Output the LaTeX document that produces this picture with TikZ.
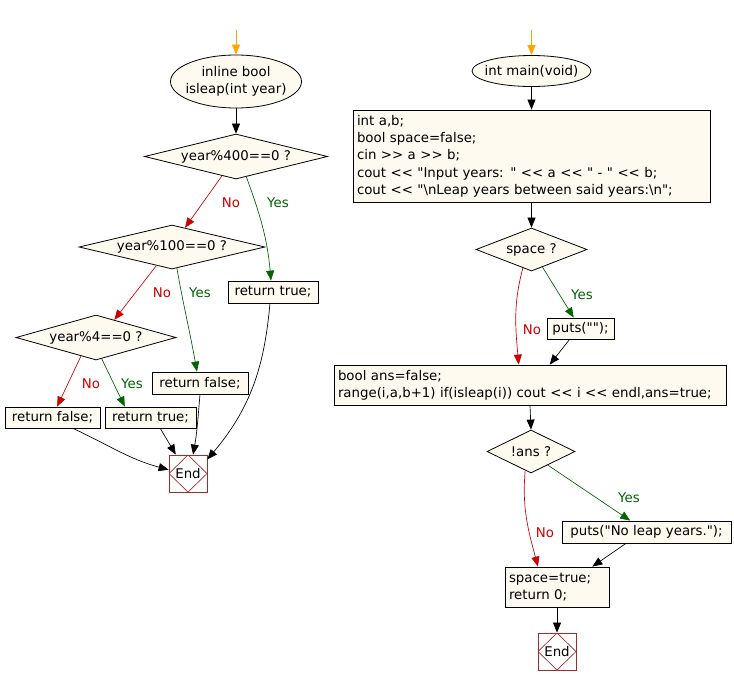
\documentclass[tikz,border=0pt]{standalone}
\usepackage{fontspec}
\setmainfont{DejaVu Sans}[Ligatures=TeXOff]
\usetikzlibrary{shapes.geometric, arrows.meta, positioning}

\definecolor{boxfill}{HTML}{FFFAF0}
\definecolor{nored}{HTML}{CC0000}
\definecolor{yesgreen}{HTML}{006400}
\definecolor{endbrown}{HTML}{A52A2A}
\definecolor{startorange}{HTML}{FFA500}

\begin{document}
\begin{tikzpicture}[x=0.75pt, y=-0.75pt,
  every node/.style={font=\fontsize{10}{13}\selectfont},
  base/.style={draw, fill=boxfill, line width=0.6pt, inner sep=0pt},
  startnode/.style={base, ellipse, align=center, inner xsep=-9pt},
  decision/.style={base, diamond},
  stmt/.style={base, rectangle, minimum height=16.5pt},
  block/.style={base, rectangle, align=left, inner xsep=3pt},
  endnode/.style={draw=endbrown, fill=white, line width=0.6pt, minimum width=28.5pt, minimum height=27.75pt, inner sep=0pt,
    path picture={\draw[endbrown, line width=0.5pt] (path picture bounding box.north) -- (path picture bounding box.east)
      -- (path picture bounding box.south) -- (path picture bounding box.west) -- cycle;}},
  flow/.style={line width=0.5pt, -{Triangle[length=7.5pt,width=6pt]}},
  entry/.style={flow, startorange},
  noedge/.style={flow, nored},
  yesedge/.style={flow, yesgreen},
  nolabel/.style={text=nored},
  yeslabel/.style={text=yesgreen}]

\useasboundingbox (0,0) rectangle (734,686);

% isleap
\coordinate (inL) at (236,30);
\node[startnode, minimum width=98.25pt, minimum height=39.75pt] (startL) at (236,81.5) {inline bool\\isleap(int year)};
\node[decision, shape aspect=4, minimum width=137.25pt, minimum height=33.75pt] (d400) at (236,156.5) {year\%400==0 ?};
\node[decision, shape aspect=4.2, minimum width=139.5pt, minimum height=33pt] (d100) at (172,247) {year\%100==0 ?};
\node[decision, shape aspect=3.5, minimum width=120pt, minimum height=33.75pt] (d4) at (96,337.5) {year\%4==0 ?};
\node[stmt, minimum width=67.5pt] (rt1) at (273,292) {return true;};
\node[stmt, minimum width=72pt] (rf1) at (200,383) {return false;};
\node[stmt, minimum width=71.25pt, minimum height=15.75pt] (rf2) at (52.5,417.5) {return false;};
\node[stmt, minimum width=68.25pt, minimum height=15.75pt] (rt2) at (150.5,417.5) {return true;};
\node[endnode] (endL) at (188,473.5) {End};

\node[nolabel] (no1) at (231,203) {No};
\node[yeslabel] (yes1) at (278,203) {Yes};
\node[nolabel] (no2) at (162,293) {No};
\node[yeslabel] (yes2) at (200,293) {Yes};
\node[nolabel] (no3) at (91,384) {No};
\node[yeslabel] (yes3) at (132,384) {Yes};

\draw[entry] (inL) -- (startL);
\draw[flow] (startL) -- (d400);
\draw[noedge] (d400.-126) -- (d100.56);
\draw[yesedge] (d400.-63) to[out=-70,in=95] (rt1.100);
\draw[noedge] (d100.-130) -- (d4.44);
\draw[yesedge] (d100.-77) to[out=-80,in=100] (rf1.105);
\draw[noedge] (d4.-129) -- (rf2.67);
\draw[yesedge] (d4.-75) -- (rt2.157);
\draw[flow] (rf2.-28) to[out=-25,in=165] (endL.169);
\draw[flow] (rt2.-48) to[out=-60,in=120] (endL.123);
\draw[flow] (rf1.south) to[out=-95,in=80] (endL.75);
\draw[flow] (rt1.-105) to[out=-95,in=50] (endL.36);

% main
\coordinate (inR) at (531.5,30);
\node[startnode, minimum width=89.25pt, minimum height=23.25pt] (startR) at (531.5,71) {int main(void)};
\node[block, text width=261.75pt, minimum height=69pt] (init) at (531.5,156) {int a,b;\\
bool space=false;\\
cin >{}> a >{}> b;\\
cout <{}< "Input years: " <{}< a <{}< " - " <{}< b;\\
cout <{}< "\textbackslash nLeap years between said years:\textbackslash n";};
\node[decision, shape aspect=2.6, minimum width=83.25pt, minimum height=32.25pt] (dspace) at (531.5,249.5) {space ?};
\node[stmt, minimum width=50.25pt, minimum height=15.75pt] (puts1) at (580.5,328.5) {puts("");};
\node[block, text width=288pt, minimum height=30pt] (loop) at (530,385) {bool ans=false;\\
range(i,a,b+1) if(isleap(i)) cout <{}< i <{}< endl,ans=true;};
\node[decision, shape aspect=2, minimum width=66pt, minimum height=32.25pt] (dans) at (531,451.5) {!ans ?};
\node[stmt, minimum width=126.75pt] (puts2) at (646.5,532) {puts("No leap years.");};
\node[block, text width=72pt, minimum height=30pt] (final) at (557,587) {space=true;\\
return 0;};
\node[endnode] (endR) at (557,651.5) {End};

\node[nolabel] (no4) at (532,330) {No};
\node[yeslabel] (yes4) at (582,295) {Yes};
\node[nolabel] (no5) at (545,533) {No};
\node[yeslabel] (yes5) at (629,498) {Yes};

\draw[entry] (inR) -- (startR);
\draw[flow] (startR) -- (init);
\draw[flow] (init) -- (dspace);
\draw[noedge] (dspace.-115) to[out=-105,in=95] (loop.119);
\draw[yesedge] (dspace.-58) -- (puts1.122);
\draw[flow] (puts1.-135) -- (loop.46);
\draw[flow] (loop.south) -- (dans.north);
\draw[noedge] (dans.-107) to[out=-95,in=105] (final.133);
\draw[yesedge] (dans.-39) -- (puts2.145);
\draw[flow] (puts2.-151) -- (final.30);
\draw[flow] (final) -- (endR);
\end{tikzpicture}
\end{document}
